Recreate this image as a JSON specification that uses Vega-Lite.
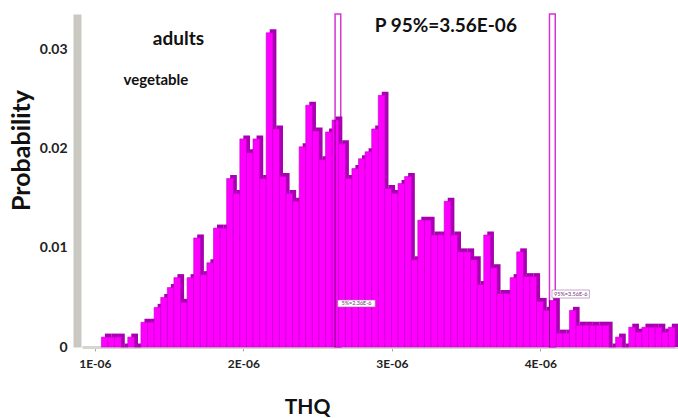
{
  "$schema": "https://vega.github.io/schema/vega-lite/v6.json",
  "width": 596,
  "height": 333,
  "autosize": "none",
  "padding": {"left": 82, "top": 14, "right": 0, "bottom": 71},
  "background": "white",
  "config": {"view": {"stroke": null}, "font": "Lato"},
  "datasets": {
    "bins": [
      {"thq":1.0666e-6,"p":0.001},{"thq":1.1110e-6,"p":0.001},{"thq":1.1554e-6,"p":0.001},{"thq":1.1998e-6,"p":0},
      {"thq":1.2442e-6,"p":0.001},{"thq":1.2886e-6,"p":0},{"thq":1.3330e-6,"p":0.0025},{"thq":1.3774e-6,"p":0.0025},
      {"thq":1.4218e-6,"p":0.004},{"thq":1.4662e-6,"p":0.005},{"thq":1.5106e-6,"p":0.006},{"thq":1.5550e-6,"p":0.007},
      {"thq":1.5994e-6,"p":0.0045},{"thq":1.6438e-6,"p":0.007},{"thq":1.6882e-6,"p":0.011},{"thq":1.7326e-6,"p":0.0073},
      {"thq":1.7770e-6,"p":0.0085},{"thq":1.8214e-6,"p":0.012},{"thq":1.8658e-6,"p":0.012},{"thq":1.9102e-6,"p":0.017},
      {"thq":1.9546e-6,"p":0.0155},{"thq":1.9990e-6,"p":0.021},{"thq":2.0434e-6,"p":0.0196},{"thq":2.0878e-6,"p":0.021},
      {"thq":2.1322e-6,"p":0.017},{"thq":2.1766e-6,"p":0.0317},{"thq":2.2210e-6,"p":0.022},{"thq":2.2654e-6,"p":0.0172},
      {"thq":2.3098e-6,"p":0.0155},{"thq":2.3542e-6,"p":0.0147},{"thq":2.3986e-6,"p":0.0202},{"thq":2.4430e-6,"p":0.0244},
      {"thq":2.4874e-6,"p":0.0218},{"thq":2.5318e-6,"p":0.0189},{"thq":2.5762e-6,"p":0.0217},{"thq":2.6206e-6,"p":0.0229},
      {"thq":2.6650e-6,"p":0.0205},{"thq":2.7094e-6,"p":0.017},{"thq":2.7538e-6,"p":0.018},{"thq":2.7982e-6,"p":0.019},
      {"thq":2.8426e-6,"p":0.0197},{"thq":2.8870e-6,"p":0.022},{"thq":2.9314e-6,"p":0.0254},{"thq":2.9758e-6,"p":0.016},
      {"thq":3.0202e-6,"p":0.0155},{"thq":3.0646e-6,"p":0.0165},{"thq":3.1090e-6,"p":0.0172},{"thq":3.1534e-6,"p":0.0088},
      {"thq":3.1978e-6,"p":0.0128},{"thq":3.2422e-6,"p":0.0128},{"thq":3.2866e-6,"p":0.0113},{"thq":3.3310e-6,"p":0.0113},
      {"thq":3.3754e-6,"p":0.0147},{"thq":3.4198e-6,"p":0.0113},{"thq":3.4642e-6,"p":0.0096},{"thq":3.5086e-6,"p":0.0096},
      {"thq":3.5530e-6,"p":0.0088},{"thq":3.5974e-6,"p":0.0063},{"thq":3.6418e-6,"p":0.0113},{"thq":3.6862e-6,"p":0.008},
      {"thq":3.7306e-6,"p":0.0054},{"thq":3.7750e-6,"p":0.0054},{"thq":3.8194e-6,"p":0.007},{"thq":3.8638e-6,"p":0.0096},
      {"thq":3.9082e-6,"p":0.0071},{"thq":3.9526e-6,"p":0.0071},{"thq":3.9970e-6,"p":0.0046},{"thq":4.0414e-6,"p":0.0037},
      {"thq":4.0858e-6,"p":0.0047},{"thq":4.1302e-6,"p":0.0014},{"thq":4.1746e-6,"p":0.0014},{"thq":4.2190e-6,"p":0.0037},
      {"thq":4.2634e-6,"p":0.0022},{"thq":4.3078e-6,"p":0.0022},{"thq":4.3522e-6,"p":0.0022},{"thq":4.3966e-6,"p":0.0022},
      {"thq":4.4410e-6,"p":0.0022},{"thq":4.4854e-6,"p":0},{"thq":4.5298e-6,"p":0.001},{"thq":4.5742e-6,"p":0},
      {"thq":4.6186e-6,"p":0.002},{"thq":4.6630e-6,"p":0.0015},{"thq":4.7074e-6,"p":0.002},{"thq":4.7518e-6,"p":0.002},
      {"thq":4.7962e-6,"p":0.002},{"thq":4.8406e-6,"p":0.0015},{"thq":4.8850e-6,"p":0.002}
    ],
    "markers": [
      {"thq": 2.618e-6, "thq2": 2.656e-6, "p": 0, "p2": 0.0336, "bartop": 0.0229},
      {"thq": 4.062e-6, "thq2": 4.101e-6, "p": 0, "p2": 0.0336, "bartop": 0.0047}
    ],
    "tags": [
      {"thq": 2.636e-6, "thq2": 2.888e-6, "p": 0.00404, "p2": 0.00474, "mid": 2.762e-6, "pm": 0.00439, "label": "5%=2.36E-6"},
      {"thq": 4.079e-6, "thq2": 4.331e-6, "p": 0.00494, "p2": 0.00575, "mid": 4.205e-6, "pm": 0.00535, "label": "95%=3.56E-6"}
    ]
  },
  "layer": [
    {
      "data": {"name": "markers"},
      "mark": {"type": "rect", "fill": "white", "stroke": "#D535D5", "strokeWidth": 1.5, "clip": false},
      "encoding": {
        "x": {"field": "thq", "type": "quantitative", "scale": {"domain": [0.947e-6, 4.894e-6], "nice": false, "zero": false},
          "title": "THQ",
          "axis": {
            "values": [1e-6, 2e-6, 3e-6, 4e-6],
            "labelExpr": "format(datum.value*1e6, '.0f') + 'E-06'",
            "labelFlush": false, "labelOverlap": false,
            "grid": false, "domainColor": "#D6D6CE", "domainWidth": 3,
            "ticks": true, "tickColor": "#AAAAAA", "tickSize": 4, "tickWidth": 1,
            "labelPadding": 7, "labelFont": "Lato", "labelFontSize": 12, "labelFontWeight": "bold", "labelColor": "#222222",
            "titleFont": "Lato", "titleFontSize": 21, "titleFontWeight": "bold", "titleColor": "#111111",
            "titleX": 225, "titleY": 66, "titleBaseline": "alphabetic", "titleAlign": "center", "titleAnchor": null
          }},
        "x2": {"field": "thq2"},
        "y": {"field": "p", "type": "quantitative", "scale": {"domain": [0, 0.0336], "nice": false},
          "title": "Probability",
          "axis": {
            "values": [0, 0.01, 0.02, 0.03],
            "labelExpr": "datum.value == 0 ? '0' : format(datum.value, '.2f')",
            "grid": false, "offset": 5, "domainColor": "#C9C9C1", "domainWidth": 8,
            "ticks": false, "tickSize": 0, "labelPadding": 10,
            "labelFont": "Lato", "labelFontSize": 14, "labelFontWeight": "bold", "labelColor": "#222222",
            "titleFont": "Lato", "titleFontSize": 25, "titleFontWeight": "bold", "titleColor": "#111111",
            "titleAngle": -90, "titleX": -48, "titleY": 136, "titleBaseline": "alphabetic", "titleAlign": "center", "titleAnchor": null
          }},
        "y2": {"field": "p2"}
      }
    },
    {
      "data": {"name": "bins"},
      "mark": {"type": "bar", "width": 6.7, "color": "#A800B0", "xOffset": 3.5, "yOffset": -3.5},
      "encoding": {
        "x": {"field": "thq", "type": "quantitative", "title": "THQ"},
        "y": {"field": "p", "type": "quantitative", "stack": null, "title": "Probability"}
      }
    },
    {
      "data": {"name": "bins"},
      "mark": {"type": "bar", "width": 6.7, "color": "#FF00FF", "stroke": "#C000C8", "strokeWidth": 0.6},
      "encoding": {
        "x": {"field": "thq", "type": "quantitative", "title": "THQ"},
        "y": {"field": "p", "type": "quantitative", "stack": null, "title": "Probability"}
      }
    },
    {
      "data": {"name": "markers"},
      "mark": {"type": "rule", "color": "#7A007A", "strokeWidth": 1},
      "encoding": {
        "x": {"field": "thq", "type": "quantitative", "title": "THQ"},
        "y": {"field": "p", "type": "quantitative", "title": "Probability"},
        "y2": {"field": "bartop"}
      }
    },
    {
      "data": {"name": "tags"},
      "mark": {"type": "rect", "fill": "white", "stroke": "#A070A0", "strokeWidth": 0.6},
      "encoding": {
        "x": {"field": "thq", "type": "quantitative", "title": "THQ"},
        "x2": {"field": "thq2"},
        "y": {"field": "p", "type": "quantitative", "title": "Probability"},
        "y2": {"field": "p2"}
      }
    },
    {
      "data": {"name": "tags"},
      "mark": {"type": "text", "fontSize": 5.5, "color": "#7A307A", "align": "center", "baseline": "middle"},
      "encoding": {
        "x": {"field": "mid", "type": "quantitative", "title": "THQ"},
        "y": {"field": "pm", "type": "quantitative", "title": "Probability"},
        "text": {"field": "label"}
      }
    },
    {
      "data": {"values": [{"thq": 1.563e-6, "p": 0.03108, "note": "adults"}]},
      "mark": {"type": "text", "font": "Lato", "fontSize": 19, "fontWeight": "bold", "color": "#111111", "align": "center", "baseline": "middle"},
      "encoding": {
        "x": {"field": "thq", "type": "quantitative", "title": "THQ"},
        "y": {"field": "p", "type": "quantitative", "title": "Probability"},
        "text": {"field": "note"}
      }
    },
    {
      "data": {"values": [{"thq": 1.411e-6, "p": 0.02694, "note": "vegetable"}]},
      "mark": {"type": "text", "font": "Lato", "fontSize": 15, "fontWeight": "bold", "color": "#111111", "align": "center", "baseline": "middle"},
      "encoding": {
        "x": {"field": "thq", "type": "quantitative", "title": "THQ"},
        "y": {"field": "p", "type": "quantitative", "title": "Probability"},
        "text": {"field": "note"}
      }
    },
    {
      "data": {"values": [{"thq": 3.364e-6, "p": 0.03239, "note": "P 95%=3.56E-06"}]},
      "mark": {"type": "text", "font": "Lato", "fontSize": 19, "fontWeight": "bold", "color": "#111111", "align": "center", "baseline": "middle"},
      "encoding": {
        "x": {"field": "thq", "type": "quantitative", "title": "THQ"},
        "y": {"field": "p", "type": "quantitative", "title": "Probability"},
        "text": {"field": "note"}
      }
    }
  ]
}
